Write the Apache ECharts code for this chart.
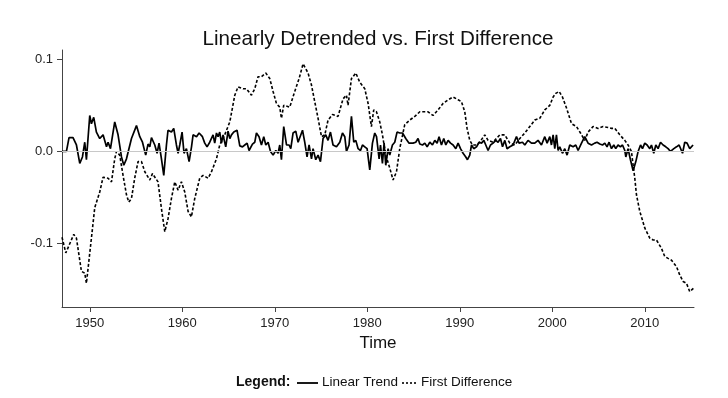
<!DOCTYPE html>
<html>
<head>
<meta charset="utf-8">
<script src="https://cdn.jsdelivr.net/npm/echarts@6/dist/echarts.min.js"></script>
<style>
  html, body { margin: 0; padding: 0; background: #fff; }
  #chart { width: 728px; height: 398px; }
</style>
</head>
<body>
<div id="chart"></div>
<script>
  // Linear trend (solid) - detrended series
  var ltYears = [1947.00, 1947.48, 1947.76, 1948.19, 1948.56, 1948.92, 1949.21, 1949.46, 1949.64, 1950.00,
    1950.18, 1950.43, 1950.72, 1951.08, 1951.44, 1951.81, 1951.98, 1952.24, 1952.70, 1953.06,
    1953.43, 1953.68, 1953.97, 1954.51, 1955.05, 1955.41, 1955.70, 1956.05, 1956.30, 1956.49,
    1956.67, 1957.03, 1957.28, 1957.49, 1957.75, 1958.00, 1958.29, 1958.46, 1958.83, 1959.08,
    1959.37, 1959.55, 1959.73, 1959.98, 1960.19, 1960.45, 1960.74, 1961.00, 1961.17, 1961.54,
    1961.82, 1962.18, 1962.43, 1962.68, 1962.97, 1963.33, 1963.51, 1963.70, 1963.87, 1964.05,
    1964.24, 1964.41, 1964.70, 1964.95, 1965.14, 1965.32, 1965.57, 1965.92, 1966.22, 1966.51,
    1966.76, 1967.01, 1967.22, 1967.59, 1967.84, 1968.02, 1968.30, 1968.56, 1968.81, 1969.03,
    1969.28, 1969.54, 1969.82, 1970.11, 1970.36, 1970.54, 1970.72, 1970.97, 1971.27, 1971.55,
    1971.73, 1971.98, 1972.27, 1972.52, 1973.00, 1973.24, 1973.49, 1973.71, 1973.97, 1974.14,
    1974.43, 1974.68, 1974.94, 1975.22, 1975.51, 1975.76, 1976.02, 1976.30, 1976.67, 1977.03,
    1977.32, 1977.57, 1977.75, 1978.03, 1978.29, 1978.54, 1978.76, 1979.01, 1979.27, 1979.48,
    1979.73, 1979.98, 1980.27, 1980.56, 1980.81, 1981.00, 1981.28, 1981.43, 1981.64, 1981.82,
    1982.00, 1982.25, 1982.43, 1982.72, 1982.97, 1983.22, 1983.51, 1983.81, 1984.16, 1984.52,
    1984.95, 1985.24, 1985.49, 1985.68, 1985.97, 1986.22, 1986.47, 1986.76, 1987.05, 1987.30,
    1987.55, 1987.76, 1988.02, 1988.27, 1988.49, 1988.74, 1989.00, 1989.28, 1989.57, 1989.82,
    1990.08, 1990.36, 1990.65, 1990.83, 1991.08, 1991.27, 1991.51, 1991.81, 1992.09, 1992.35,
    1992.60, 1992.81, 1993.06, 1993.32, 1993.60, 1993.89, 1994.14, 1994.40, 1994.62, 1994.87,
    1995.11, 1995.41, 1995.76, 1996.13, 1996.41, 1996.78, 1997.03, 1997.38, 1997.75, 1998.11,
    1998.46, 1998.83, 1999.19, 1999.44, 1999.73, 1999.91, 2000.09, 2000.27, 2000.45, 2000.63,
    2000.81, 2001.10, 2001.35, 2001.60, 2001.89, 2002.25, 2002.54, 2002.79, 2003.16, 2003.51,
    2003.87, 2004.24, 2004.59, 2004.84, 2005.14, 2005.43, 2005.68, 2005.92, 2006.14, 2006.40,
    2006.65, 2006.86, 2007.11, 2007.37, 2007.59, 2007.84, 2007.95, 2008.19, 2008.45, 2008.74,
    2009.03, 2009.28, 2009.54, 2009.75, 2010.00, 2010.25, 2010.54, 2010.72, 2010.97, 2011.19,
    2011.44, 2011.70, 2011.98, 2012.27, 2012.52, 2012.78, 2013.14, 2013.43, 2013.71, 2013.86,
    2014.08, 2014.32, 2014.57, 2014.86, 2015.22];
  var ltValues = [0.000, 0.000, 0.015, 0.015, 0.007, -0.013, -0.006, 0.010, -0.009, 0.039,
    0.030, 0.037, 0.021, 0.014, 0.018, 0.005, 0.010, 0.003, 0.032, 0.018,
    -0.006, -0.015, -0.008, 0.014, 0.028, 0.016, 0.010, -0.004, 0.008, 0.005,
    0.015, 0.007, -0.002, 0.009, -0.008, -0.026, 0.007, 0.023, 0.021, 0.025,
    0.007, -0.002, 0.007, 0.021, -0.002, 0.003, -0.011, 0.005, 0.018, 0.016,
    0.020, 0.016, 0.009, 0.005, 0.010, 0.018, 0.009, 0.020, 0.016, 0.021,
    0.009, 0.018, 0.005, 0.022, 0.014, 0.018, 0.021, 0.023, 0.006, 0.005,
    0.007, 0.009, 0.001, 0.008, 0.010, 0.020, 0.016, 0.007, 0.016, 0.007,
    0.010, 0.000, -0.004, 0.001, -0.002, 0.007, -0.009, 0.027, 0.007, 0.007,
    0.003, 0.020, 0.022, 0.010, 0.023, 0.010, -0.006, 0.007, -0.008, 0.003,
    -0.009, -0.004, -0.011, 0.014, 0.018, 0.012, 0.021, 0.007, 0.005, 0.010,
    0.020, 0.016, 0.000, 0.007, 0.038, 0.010, 0.012, 0.003, 0.001, 0.007,
    0.005, 0.003, -0.020, 0.009, 0.020, 0.016, -0.008, 0.007, -0.013, 0.009,
    -0.015, 0.003, -0.004, 0.007, 0.010, 0.021, 0.020, 0.020, 0.014, 0.009,
    0.009, 0.010, 0.014, 0.008, 0.007, 0.009, 0.005, 0.010, 0.007, 0.012,
    0.009, 0.016, 0.007, 0.014, 0.007, 0.012, 0.009, 0.007, 0.003, 0.009,
    0.003, -0.002, -0.006, -0.009, -0.004, 0.007, 0.003, 0.005, 0.010, 0.009,
    0.012, 0.007, 0.001, 0.007, 0.009, 0.012, 0.010, 0.014, 0.005, 0.012,
    0.003, 0.005, 0.007, 0.016, 0.009, 0.010, 0.007, 0.012, 0.009, 0.009,
    0.012, 0.007, 0.016, 0.009, 0.016, 0.007, 0.018, 0.003, 0.018, 0.001,
    0.005, -0.002, 0.003, -0.004, 0.007, 0.005, 0.007, 0.001, 0.009, 0.016,
    0.009, 0.007, 0.009, 0.010, 0.008, 0.007, 0.009, 0.005, 0.010, 0.003,
    0.007, 0.003, 0.007, 0.005, 0.007, 0.001, -0.006, 0.003, -0.009, -0.021,
    -0.011, 0.000, 0.007, 0.003, 0.009, 0.007, 0.003, 0.007, -0.002, 0.007,
    0.003, 0.010, 0.007, 0.005, 0.003, 0.000, 0.003, 0.005, 0.007, 0.009,
    -0.002, 0.010, 0.009, 0.003, 0.007];

  // First difference (dashed)
  var fdYears = [1947.00, 1947.41, 1948.27, 1948.56, 1949.10, 1949.46, 1949.64, 1950.18, 1950.54, 1951.08,
    1951.44, 1951.98, 1952.35, 1952.70, 1952.89, 1953.24, 1953.60, 1953.97, 1954.22, 1954.51,
    1954.86, 1955.22, 1955.59, 1955.95, 1956.49, 1956.78, 1957.38, 1957.75, 1958.11, 1958.46,
    1958.83, 1959.19, 1959.55, 1959.91, 1960.27, 1960.63, 1960.99, 1961.35, 1961.89, 1962.25,
    1962.79, 1963.16, 1963.70, 1964.05, 1964.59, 1965.14, 1965.68, 1966.03, 1966.57, 1966.94,
    1967.48, 1967.84, 1968.19, 1968.56, 1969.03, 1969.46, 1969.82, 1970.18, 1970.54, 1970.72,
    1970.97, 1971.62, 1972.16, 1972.63, 1973.06, 1973.60, 1973.97, 1974.32, 1974.68, 1975.05,
    1975.41, 1975.76, 1976.24, 1976.84, 1977.38, 1977.75, 1977.92, 1978.29, 1978.76, 1979.19,
    1979.73, 1980.09, 1980.45, 1980.70, 1980.99, 1981.35, 1981.64, 1982.00, 1982.43, 1982.79,
    1983.16, 1983.51, 1984.05, 1984.59, 1985.14, 1985.68, 1986.57, 1987.11, 1987.65, 1988.19,
    1988.74, 1989.28, 1989.82, 1990.18, 1990.54, 1990.79, 1991.08, 1991.37, 1991.81, 1992.16,
    1992.70, 1993.06, 1993.60, 1994.32, 1994.86, 1995.41, 1995.95, 1996.49, 1997.03, 1997.57,
    1998.11, 1998.65, 1999.19, 1999.73, 2000.09, 2000.38, 2000.74, 2001.10, 2001.54, 2002.08,
    2002.62, 2003.05, 2003.51, 2003.87, 2004.41, 2004.95, 2005.49, 2006.03, 2006.40, 2006.76,
    2007.30, 2007.84, 2008.19, 2008.56, 2008.74, 2008.92, 2009.10, 2009.46, 2010.00, 2010.54,
    2010.90, 2011.26, 2011.80, 2012.16, 2012.52, 2012.89, 2013.43, 2013.78, 2014.14, 2014.51,
    2014.86, 2015.30];
  var fdValues = [-0.093, -0.110, -0.090, -0.094, -0.130, -0.132, -0.143, -0.094, -0.061, -0.044,
    -0.028, -0.029, -0.033, -0.008, 0.000, -0.004, -0.026, -0.047, -0.055, -0.051,
    -0.029, -0.011, -0.011, -0.022, -0.031, -0.024, -0.033, -0.062, -0.087, -0.073,
    -0.051, -0.033, -0.042, -0.033, -0.044, -0.065, -0.071, -0.051, -0.029, -0.026,
    -0.029, -0.022, -0.008, 0.007, 0.018, 0.032, 0.061, 0.070, 0.068, 0.068,
    0.061, 0.068, 0.081, 0.081, 0.085, 0.079, 0.065, 0.052, 0.048, 0.036,
    0.050, 0.048, 0.065, 0.079, 0.095, 0.085, 0.072, 0.054, 0.036, 0.016,
    0.018, 0.034, 0.040, 0.038, 0.057, 0.061, 0.050, 0.079, 0.085, 0.075,
    0.068, 0.052, 0.027, 0.045, 0.043, 0.032, 0.018, -0.004, -0.018, -0.031,
    -0.022, 0.003, 0.029, 0.034, 0.038, 0.043, 0.043, 0.039, 0.045, 0.052,
    0.056, 0.059, 0.056, 0.054, 0.043, 0.025, 0.012, 0.007, 0.007, 0.010,
    0.018, 0.012, 0.010, 0.018, 0.018, 0.009, 0.007, 0.014, 0.020, 0.027,
    0.034, 0.036, 0.045, 0.050, 0.059, 0.063, 0.065, 0.059, 0.047, 0.030,
    0.027, 0.020, 0.012, 0.021, 0.027, 0.025, 0.027, 0.026, 0.025, 0.025,
    0.018, 0.012, 0.007, 0.000, -0.015, -0.029, -0.047, -0.065, -0.083, -0.094,
    -0.096, -0.096, -0.105, -0.114, -0.116, -0.118, -0.125, -0.134, -0.141, -0.143,
    -0.152, -0.148, -0.150, -0.156];

  var xTicks = [1950, 1960, 1970, 1980, 1990, 2000, 2010];
  var yTicks = [-0.1, 0, 0.1];
  var seriesNames = ['Linear Trend', 'First Difference'];

  function zip(xs, ys) {
    var out = [];
    for (var i = 0; i < xs.length; i++) {
      out.push([xs[i], ys[i]]);
    }
    return out;
  }

  var font = 'Liberation Sans, Arial, sans-serif';
  var axisColor = '#444';
  var legendY = 383;

  var myChart = echarts.init(document.getElementById('chart'), null, { renderer: 'canvas' });

  var option = {
    backgroundColor: '#fff',
    animation: false,
    title: {
      text: 'Linearly Detrended vs. First Difference',
      left: 373,
      top: 24,
      textAlign: 'center',
      textStyle: { fontFamily: font, fontSize: 20.6, fontWeight: 'normal', color: '#111' }
    },
    // hand-built legend, drawn like the original's key strip
    graphic: [{
      type: 'text',
      left: 236,
      top: legendY - 8,
      style: { text: 'Legend:', font: 'bold 14px ' + font, fill: '#111' }
    }, {
      type: 'line',
      shape: { x1: 297, y1: legendY, x2: 318, y2: legendY },
      style: { stroke: '#000', lineWidth: 1.8 }
    }, {
      type: 'text',
      left: 322,
      top: legendY - 8,
      style: { text: seriesNames[0], font: '13.5px ' + font, fill: '#111' }
    }, {
      type: 'line',
      shape: { x1: 402, y1: legendY, x2: 418, y2: legendY },
      style: { stroke: '#000', lineWidth: 1.6, lineDash: [2, 2] }
    }, {
      type: 'text',
      left: 421,
      top: legendY - 8,
      style: { text: seriesNames[1], font: '13.5px ' + font, fill: '#111' }
    }],
    grid: { left: 62, right: 34, top: 50, bottom: 91 },
    xAxis: {
      type: 'value',
      min: 1947,
      max: 2015.32,
      name: 'Time',
      nameLocation: 'middle',
      nameGap: 23,
      nameTextStyle: { fontFamily: font, fontSize: 17, color: '#111' },
      axisLine: { onZero: false, lineStyle: { color: axisColor, width: 1 } },
      axisTick: { show: true, length: 5, customValues: xTicks, lineStyle: { color: axisColor } },
      axisLabel: {
        customValues: xTicks,
        margin: 10,
        fontFamily: font,
        fontSize: 13,
        color: '#222',
        formatter: function (v) { return String(v); }
      },
      splitLine: { show: false }
    },
    yAxis: {
      type: 'value',
      min: -0.1687,
      max: 0.110,
      axisLine: { show: true, onZero: false, lineStyle: { color: axisColor, width: 1 } },
      axisTick: { show: true, length: 5, customValues: yTicks, lineStyle: { color: axisColor } },
      axisLabel: {
        customValues: yTicks,
        margin: 9,
        fontFamily: font,
        fontSize: 13,
        color: '#222',
        formatter: function (v) { return v.toFixed(1); }
      },
      splitLine: { show: false }
    },
    series: [{
      name: seriesNames[0],
      type: 'line',
      data: zip(ltYears, ltValues),
      showSymbol: false,
      symbol: 'none',
      color: '#000',
      lineStyle: { color: '#000', width: 1.7 },
      z: 3,
      markLine: {
        silent: true,
        symbol: 'none',
        label: { show: false },
        lineStyle: { color: '#c8c8c8', width: 1, type: 'solid' },
        data: [{ yAxis: 0 }]
      }
    }, {
      name: seriesNames[1],
      type: 'line',
      data: zip(fdYears, fdValues),
      showSymbol: false,
      symbol: 'none',
      color: '#000',
      lineStyle: { color: '#000', width: 1.6, type: [3, 2] },
      z: 2
    }]
  };

  myChart.setOption(option);
  window.addEventListener('resize', function () {
    myChart.resize();
  });
</script>
</body>
</html>
